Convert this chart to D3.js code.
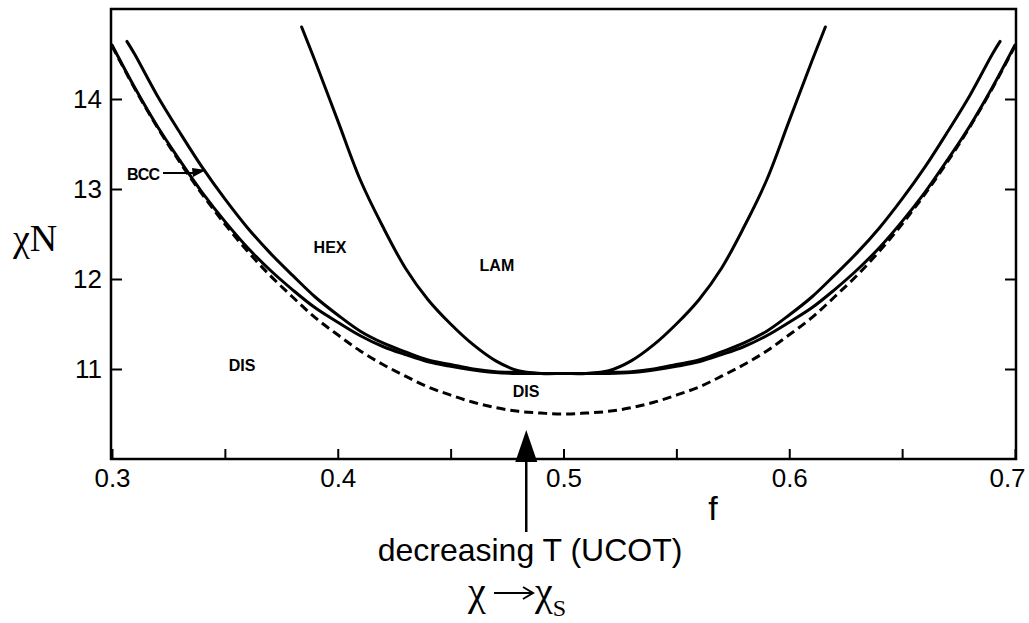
<!DOCTYPE html>
<html>
<head>
<meta charset="utf-8">
<script src="https://cdn.jsdelivr.net/npm/d3@7"></script>
<style>
    body { margin: 0; background: #fff; }
    svg { display: block; }
    .tick text { font-family: "Liberation Sans", Arial, sans-serif; font-size: 26px; fill: #000; }
    .domain { display: none; }
    .tick line { stroke: #000; stroke-width: 2; }
    .region { font-family: "Liberation Sans", Arial, sans-serif; font-weight: bold; font-size: 16px; }
</style>
</head>
<body>
<div id="chart"></div>
<script>
var WIDTH = 1029,
    HEIGHT = 623;

// composition f, step 0.01
var fGrid = [0.30, 0.31, 0.32, 0.33, 0.34, 0.35, 0.36, 0.37, 0.38, 0.39,
    0.40, 0.41, 0.42, 0.43, 0.44, 0.45, 0.46, 0.47, 0.48, 0.49,
    0.50, 0.51, 0.52, 0.53, 0.54, 0.55, 0.56, 0.57, 0.58, 0.59,
    0.60, 0.61, 0.62, 0.63, 0.64, 0.65, 0.66, 0.67, 0.68, 0.69, 0.70];

// mean-field spinodal (dashed)
var spinodalChiN = [14.59, 14.12, 13.69, 13.30, 12.94, 12.61, 12.31, 12.04, 11.80, 11.57,
    11.38, 11.20, 11.05, 10.92, 10.80, 10.71, 10.63, 10.57, 10.53, 10.51,
    10.50, 10.51, 10.53, 10.57, 10.63, 10.71, 10.80, 10.92, 11.05, 11.20,
    11.38, 11.57, 11.80, 12.04, 12.31, 12.61, 12.94, 13.30, 13.69, 14.12, 14.59];

// DIS / ordered boundary
var odtChiN = [14.60, 14.13, 13.70, 13.32, 12.96, 12.64, 12.35, 12.10, 11.88, 11.68,
    11.52, 11.37, 11.25, 11.16, 11.08, 11.03, 10.99, 10.96, 10.95, 10.95,
    10.95, 10.95, 10.95, 10.96, 10.99, 11.03, 11.08, 11.16, 11.25, 11.37,
    11.52, 11.68, 11.88, 12.10, 12.35, 12.64, 12.96, 13.32, 13.70, 14.13, 14.60];

// BCC / HEX boundary
var bccHexF = [0.3066, 0.31, 0.32, 0.33, 0.34, 0.35, 0.36, 0.37, 0.38, 0.39,
    0.40, 0.41, 0.42, 0.43, 0.44, 0.45, 0.46, 0.47, 0.48, 0.49,
    0.50, 0.51, 0.52, 0.53, 0.54, 0.55, 0.56, 0.57, 0.58, 0.59,
    0.60, 0.61, 0.62, 0.63, 0.64, 0.65, 0.66, 0.67, 0.68, 0.69, 0.6934];
var bccHexChiN = [14.64, 14.50, 14.04, 13.63, 13.24, 12.89, 12.57, 12.29, 12.04, 11.80,
    11.60, 11.42, 11.29, 11.19, 11.10, 11.05, 11.00, 10.97, 10.96, 10.95,
    10.95, 10.95, 10.96, 10.97, 11.00, 11.05, 11.10, 11.19, 11.29, 11.42,
    11.60, 11.80, 12.04, 12.29, 12.57, 12.89, 13.24, 13.63, 14.04, 14.50, 14.64];

// HEX / LAM boundary
var hexLamF = [0.384, 0.39, 0.40, 0.41, 0.42, 0.43, 0.44, 0.45, 0.46, 0.47, 0.48, 0.49,
    0.50, 0.51, 0.52, 0.53, 0.54, 0.55, 0.56, 0.57, 0.58, 0.59, 0.60, 0.61, 0.616];
var hexLamChiN = [14.80, 14.42, 13.76, 13.10, 12.58, 12.12, 11.77, 11.50, 11.27, 11.09, 10.98, 10.95,
    10.95, 10.95, 10.98, 11.09, 11.27, 11.50, 11.77, 12.12, 12.58, 13.10, 13.76, 14.42, 14.80];

var xTicks = [0.3, 0.35, 0.4, 0.45, 0.5, 0.55, 0.6, 0.65, 0.7];
var xTickLabels = ["0.3", "", "0.4", "", "0.5", "", "0.6", "", "0.7"];
var yTicks = [11, 12, 13, 14];

// region names and where they sit (f, chiN of the baseline)
var regionNames = ["HEX", "LAM", "DIS", "DIS"];
var regionF = [0.3966, 0.4705, 0.3576, 0.4834];
var regionChiN = [12.29, 12.09, 10.98, 10.69];

var arrowF = 0.4835;

var svg = d3.select("#chart")
    .append("svg")
    .attr("width", WIDTH)
    .attr("height", HEIGHT);

var x = d3.scaleLinear().domain([0.3, 0.7]).range([112, 1015]);
var y = d3.scaleLinear().domain([10, 15]).range([459, 9]);

function zipCurve(fs, vs) {
    return fs.map(function (f, i) {
        return [f, vs[i]];
    });
}

var line = d3.line()
    .x(function (d) { return x(d[0]); })
    .y(function (d) { return y(d[1]); })
    .curve(d3.curveCatmullRom.alpha(0.5));

// axes, ticks pointing inward
var xAxisG = svg.append("g")
    .attr("transform", "translate(0," + y(10) + ")")
    .call(d3.axisBottom(x)
        .tickValues(xTicks)
        .tickFormat(function (d, i) { return xTickLabels[i]; })
        .tickSizeInner(-10)
        .tickSizeOuter(0)
        .tickPadding(10));

// last label sits a bit inside the page edge
xAxisG.selectAll(".tick text")
    .filter(function (d) { return d === 0.7; })
    .attr("dx", -8);

svg.append("g")
    .attr("transform", "translate(" + x(0.3) + ",0)")
    .call(d3.axisLeft(y)
        .tickValues(yTicks)
        .tickFormat(d3.format("d"))
        .tickSizeInner(-10)
        .tickSizeOuter(0)
        .tickPadding(10));

svg.append("g")
    .attr("transform", "translate(" + x(0.7) + ",0)")
    .call(d3.axisRight(y)
        .tickValues(yTicks)
        .tickFormat("")
        .tickSizeInner(-10)
        .tickSizeOuter(0));

// frame
svg.append("rect")
    .attr("x", x(0.3) - 1)
    .attr("y", y(15))
    .attr("width", x(0.7) - x(0.3) + 2)
    .attr("height", y(10) - y(15))
    .attr("fill", "none")
    .attr("stroke", "#000")
    .attr("stroke-width", 2.5);

// curves
svg.append("path")
    .attr("d", line(zipCurve(fGrid, spinodalChiN)))
    .attr("fill", "none")
    .attr("stroke", "#000")
    .attr("stroke-width", 3)
    .attr("stroke-dasharray", "9,5");

[zipCurve(fGrid, odtChiN), zipCurve(bccHexF, bccHexChiN), zipCurve(hexLamF, hexLamChiN)]
    .forEach(function (pts) {
        svg.append("path")
            .attr("d", line(pts))
            .attr("fill", "none")
            .attr("stroke", "#000")
            .attr("stroke-width", 3)
            .attr("stroke-linecap", "round");
    });

// region labels
svg.selectAll(".region")
    .data(regionNames)
    .enter()
    .append("text")
    .attr("class", "region")
    .attr("x", function (d, i) { return x(regionF[i]); })
    .attr("y", function (d, i) { return y(regionChiN[i]); })
    .attr("text-anchor", "middle")
    .text(function (d) { return d; });

// BCC label with its little pointer
svg.append("text")
    .attr("class", "region")
    .attr("x", 127)
    .attr("y", 180)
    .attr("textLength", 33)
    .text("BCC");
svg.append("line")
    .attr("x1", 163).attr("y1", 173)
    .attr("x2", 196).attr("y2", 173)
    .attr("stroke", "#000")
    .attr("stroke-width", 2);
svg.append("path")
    .attr("d", "M192,168 L206,170 L193,177 Z")
    .attr("fill", "#000");

// axis titles
svg.append("text")
    .attr("x", 13)
    .attr("y", 251)
    .attr("font-family", "'Liberation Serif', 'Times New Roman', serif")
    .attr("font-size", 38)
    .text("χN");

svg.append("text")
    .attr("x", 713)
    .attr("y", 520)
    .attr("text-anchor", "middle")
    .attr("font-family", "'Liberation Sans', Arial, sans-serif")
    .attr("font-size", 34)
    .text("f");

// the big arrow under the axis
var ax = x(arrowF);
svg.append("line")
    .attr("x1", ax).attr("y1", 455)
    .attr("x2", ax).attr("y2", 532)
    .attr("stroke", "#000")
    .attr("stroke-width", 2.5);
svg.append("path")
    .attr("d", "M" + ax + ",430 L" + (ax + 11) + ",462 L" + (ax - 11) + ",462 Z")
    .attr("fill", "#000");

svg.append("text")
    .attr("x", 530)
    .attr("y", 561)
    .attr("text-anchor", "middle")
    .attr("font-family", "'Liberation Sans', Arial, sans-serif")
    .attr("font-size", 32)
    .text("decreasing T (UCOT)");

// chi -> chi_S, the arrow drawn as a thin line with an open head
var serif = "'Liberation Serif', 'Times New Roman', serif";
svg.append("text")
    .attr("x", 468)
    .attr("y", 605)
    .attr("font-family", serif)
    .attr("font-size", 40)
    .text("χ");
svg.append("path")
    .attr("d", "M494,593 L532,593 M523,587 L533,593 L523,599")
    .attr("fill", "none")
    .attr("stroke", "#000")
    .attr("stroke-width", 2);
var chiS = svg.append("text")
    .attr("x", 535)
    .attr("y", 605)
    .attr("font-family", serif)
    .attr("font-size", 40);
chiS.append("tspan").text("χ");
chiS.append("tspan")
    .attr("dy", 11)
    .attr("font-size", 24)
    .text("S");
</script>
</body>
</html>
